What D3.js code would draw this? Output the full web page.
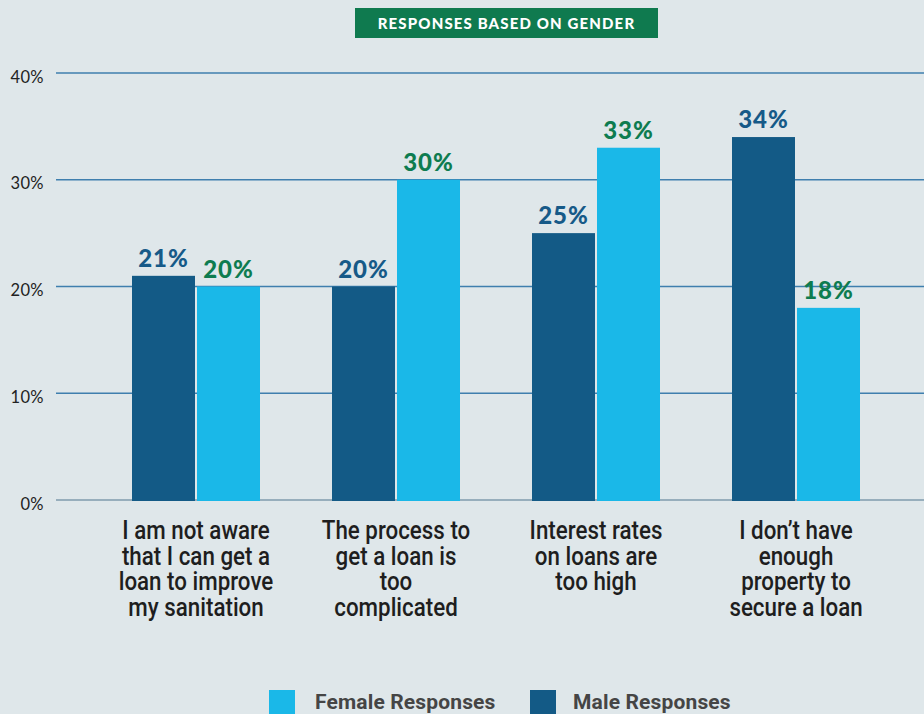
<!DOCTYPE html>
<html>
<head>
<meta charset="utf-8">
<script src="https://cdn.jsdelivr.net/npm/d3@7"></script>
<style>
  html, body { margin: 0; padding: 0; background: #dfe7ea; }
  svg { display: block; }
</style>
</head>
<body>
<script>
// Survey responses on barriers to sanitation loans, split by gender (percent)
const categories = [
  ["I am not aware", "that I can get a", "loan to improve", "my sanitation"],
  ["The process to", "get a loan is", "too", "complicated"],
  ["Interest rates", "on loans are", "too high"],
  ["I don\u2019t have", "enough", "property to", "secure a loan"]
];
const categoryKeys = ["aware", "process", "interest", "property"];
const maleValues = [21, 20, 25, 34];
const femaleValues = [20, 30, 33, 18];
const seriesNames = ["Male Responses", "Female Responses"];
const yTicks = [0, 10, 20, 30, 40];
const titleText = "RESPONSES BASED ON GENDER";

const W = 924, H = 714;
const colors = { male: "#135a86", female: "#1ab8e8", maleLabel: "#165a88", femaleLabel: "#0e7c50" };

const svg = d3.select("body").append("svg").attr("width", W).attr("height", H);
svg.append("rect").attr("width", W).attr("height", H).attr("fill", "#dfe7ea");

const y = d3.scaleLinear().domain([0, 40]).range([500, 73]);
const x0 = d3.scaleBand().domain(categoryKeys).range([96, 896]).paddingInner(0.36).paddingOuter(0.18);
const x1 = d3.scaleBand().domain(["male", "female"]).range([0, x0.bandwidth()]).paddingInner(2 / 65);

// Title badge
const title = svg.append("g");
title.append("rect").attr("x", 355).attr("y", 8).attr("width", 303).attr("height", 30).attr("fill", "#0f7a4f");
title.append("text").attr("x", 506.5).attr("y", 28.5).attr("text-anchor", "middle")
  .attr("fill", "#fff").attr("font-family", "Lato, 'Open Sans', sans-serif").attr("font-weight", 900)
  .attr("font-size", 15).attr("letter-spacing", 1.15).text(titleText);

// Gridlines and y-axis labels
const yAxis = d3.axisLeft(y).tickValues(yTicks).tickFormat(d => d + "%").tickSize(0).tickPadding(0);
const gAxis = svg.append("g").attr("transform", "translate(44,0)").call(yAxis);
gAxis.select(".domain").remove();
gAxis.selectAll("text").attr("font-family", "Lato, 'Noto Sans', sans-serif").attr("font-size", 16.5)
  .attr("letter-spacing", 0.4).attr("fill", "#222").attr("dy", "0.55em");

svg.append("g").selectAll("line").data(yTicks).join("line")
  .attr("x1", 56).attr("x2", W)
  .attr("y1", d => y(d)).attr("y2", d => y(d))
  .attr("stroke", d => d === 0 ? "#7f9bad" : "#3f7fae").attr("stroke-width", 1.5);

// Bars
const rows = categoryKeys.map((k, i) => ({ key: k, male: maleValues[i], female: femaleValues[i] }));
const groups = svg.append("g").selectAll("g").data(rows).join("g")
  .attr("transform", d => `translate(${x0(d.key)},0)`);

groups.selectAll("rect").data(d => ["male", "female"].map(s => ({ s, v: d[s] }))).join("rect")
  .attr("x", d => x1(d.s)).attr("width", x1.bandwidth())
  .attr("y", d => y(d.v)).attr("height", d => y(0) - y(d.v) + 1)
  .attr("fill", d => colors[d.s]);

groups.selectAll("text.val").data(d => ["male", "female"].map(s => ({ s, v: d[s] }))).join("text")
  .attr("class", "val")
  .attr("x", d => x1(d.s) + x1.bandwidth() / 2).attr("y", d => y(d.v) - 9)
  .attr("text-anchor", "middle").attr("font-family", "Lato, 'Open Sans', sans-serif")
  .attr("font-weight", 900).attr("font-size", 24).attr("letter-spacing", 0.9)
  .attr("fill", d => d.s === "male" ? colors.maleLabel : colors.femaleLabel)
  .text(d => d.v + "%");

// Category labels, set in a horizontally condensed face
const catLabels = svg.append("g").selectAll("text").data(categoryKeys).join("text")
  .attr("transform", d => `translate(${x0(d) + x0.bandwidth() / 2},539) scale(0.86,1)`)
  .attr("x", 0).attr("y", 0)
  .attr("text-anchor", "middle")
  .attr("font-family", "Roboto, 'Noto Sans', sans-serif")
  .attr("font-weight", 500)
  .attr("font-size", 26).attr("fill", "#1e1e1e");
catLabels.selectAll("tspan").data((d, i) => categories[i]).join("tspan")
  .attr("x", 0)
  .attr("dy", (d, i) => i === 0 ? 0 : 25.7)
  .text(d => d);

// Legend
const legendItems = [
  { name: seriesNames[1], color: colors.female, x: 269, tx: 315 },
  { name: seriesNames[0], color: colors.male, x: 530, tx: 573 }
];
const legend = svg.append("g").selectAll("g").data(legendItems).join("g");
legend.append("rect").attr("x", d => d.x).attr("y", 690).attr("width", 26).attr("height", 26).attr("fill", d => d.color);
legend.append("text").attr("x", d => d.tx).attr("y", 709)
  .attr("font-family", "Roboto, 'Noto Sans', sans-serif").attr("font-weight", 700)
  .attr("font-size", 21).attr("letter-spacing", 0.15).attr("fill", "#454545").text(d => d.name);
</script>
</body>
</html>
